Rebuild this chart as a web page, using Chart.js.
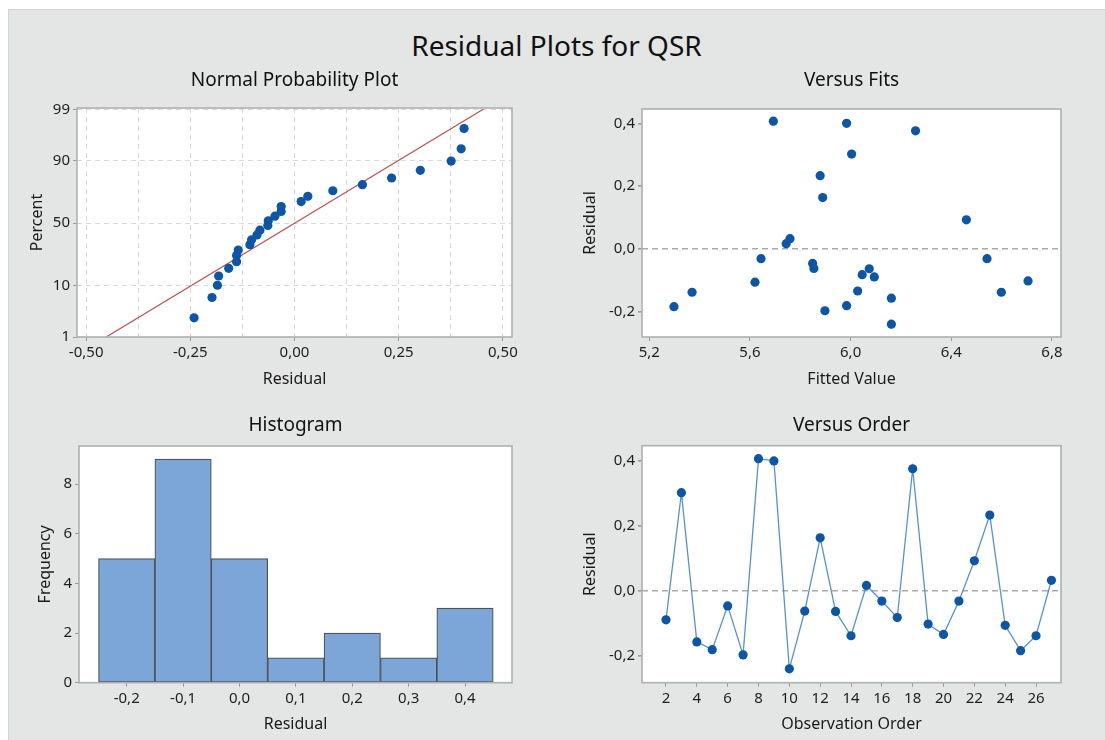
<!DOCTYPE html>
<html>
<head>
<meta charset="utf-8">
<title>Residual Plots for QSR</title>
<script src="https://cdn.jsdelivr.net/npm/chart.js@4.4.1/dist/chart.umd.min.js"></script>
<style>
  html, body { margin: 0; padding: 0; background: #fff; width: 1105px; height: 740px; overflow: hidden; }
  #fundo { position: absolute; left: 8px; top: 9px; width: 1097px; height: 731px; background: #e4e5e5;
           border-top: 1px solid #d3d4d4; border-left: 1px solid #d3d4d4; }
  #titulo { position: absolute; left: 8px; top: 26px; width: 1097px; text-align: center;
            font: 28px/38px "Noto Sans", sans-serif; color: #111; }
  canvas { position: absolute; }
</style>
</head>
<body>
<div id="fundo"></div>
<div id="titulo">Residual Plots for QSR</div>
<canvas id="normal" width="540" height="340" style="left:0;top:60px"></canvas>
<canvas id="ajuste" width="545" height="340" style="left:560px;top:60px"></canvas>
<canvas id="histograma" width="540" height="340" style="left:0;top:400px"></canvas>
<canvas id="ordem" width="545" height="340" style="left:560px;top:400px"></canvas>
<script>
const ordens = [2, 3, 4, 5, 6, 7, 8, 9, 10, 11, 12, 13, 14, 15, 16, 17, 18, 19, 20, 21, 22, 23, 24, 25, 26, 27];
const residuos = [-0.090, 0.302, -0.158, -0.182, -0.047, -0.198, 0.407, 0.400, -0.241, -0.063, 0.163, -0.064, -0.139,
                  0.016, -0.032, -0.083, 0.376, -0.103, -0.135, -0.032, 0.092, 0.233, -0.107, -0.185, -0.139, 0.032];
// Valores ajustados correspondentes (gráfico "Versus Fits").
const ajustados = [6.094, 6.004, 6.162, 5.984, 5.849, 5.898, 5.693, 5.984, 6.162, 5.854, 5.889, 6.074, 5.370,
                   5.744, 5.644, 6.046, 6.258, 6.705, 6.028, 6.542, 6.460, 5.879, 5.620, 5.298, 6.599, 5.759];
// Percentagens da probabilidade normal (resíduos ordenados).
const percentagens = [2.65, 6.44, 10.23, 14.02, 17.80, 21.59, 25.38, 29.17, 32.95, 36.74, 40.53, 44.32, 48.11,
                      51.89, 55.68, 59.47, 63.26, 67.05, 70.83, 74.62, 78.41, 82.20, 85.98, 89.77, 93.56, 97.35];
// Reta de referência da normal.
const retaX = [-0.452, 0.453];
const retaPct = [1, 99];
// Histograma.
const classes = [-0.2, -0.1, 0.0, 0.1, 0.2, 0.3, 0.4];
const frequencias = [5, 9, 5, 1, 2, 1, 3];
// Marcas dos eixos.
const ticksPct = [1, 10, 50, 90, 99];
const grelhaResiduoX = [-0.5, -0.375, -0.25, -0.125, 0, 0.125, 0.25, 0.375, 0.5];
const ticksAjuste = [5.2, 5.6, 6.0, 6.4, 6.8];
const ticksResiduoY = [-0.2, 0.0, 0.2, 0.4];
const ticksFreq = [0, 2, 4, 6, 8];
const ticksOrdem = [2, 4, 6, 8, 10, 12, 14, 16, 18, 20, 22, 24, 26];

const AZUL = '#0d56a5';
Chart.defaults.font.family = "'Noto Sans', sans-serif";
Chart.defaults.color = '#1e1e1e';
Chart.defaults.animation = false;

// Inversa da normal padrão (Acklam), usada para a escala de probabilidade.
function probit(p) {
  const a = [-3.969683028665376e+01, 2.209460984245205e+02, -2.759285104469687e+02, 1.383577518672690e+02, -3.066479806614716e+01, 2.506628277459239e+00];
  const b = [-5.447609879822406e+01, 1.615858368580409e+02, -1.556989798598866e+02, 6.680131188771972e+01, -1.328068155288572e+01];
  const c = [-7.784894002430293e-03, -3.223964580411365e-01, -2.400758277161838e+00, -2.549732539343734e+00, 4.374664141464968e+00, 2.938163982698783e+00];
  const d = [7.784695709041462e-03, 3.224671290700398e-01, 2.445134137142996e+00, 3.754408661907416e+00];
  const pl = 0.02425;
  let q, r;
  if (p < pl) {
    q = Math.sqrt(-2 * Math.log(p));
    return (((((c[0] * q + c[1]) * q + c[2]) * q + c[3]) * q + c[4]) * q + c[5]) / ((((d[0] * q + d[1]) * q + d[2]) * q + d[3]) * q + 1);
  }
  if (p > 1 - pl) {
    q = Math.sqrt(-2 * Math.log(1 - p));
    return -(((((c[0] * q + c[1]) * q + c[2]) * q + c[3]) * q + c[4]) * q + c[5]) / ((((d[0] * q + d[1]) * q + d[2]) * q + d[3]) * q + 1);
  }
  q = p - 0.5;
  r = q * q;
  return (((((a[0] * r + a[1]) * r + a[2]) * r + a[3]) * r + a[4]) * r + a[5]) * q / (((((b[0] * r + b[1]) * r + b[2]) * r + b[3]) * r + b[4]) * r + 1);
}

const virgula = (v, n) => v.toFixed(n).replace('.', ',');

// Fundo branco e moldura cinzenta da área de desenho.
const moldura = {
  id: 'moldura',
  beforeDraw(chart) {
    const { ctx, chartArea: a } = chart;
    ctx.save();
    ctx.fillStyle = '#fff';
    ctx.fillRect(a.left, a.top, a.width, a.height);
    ctx.restore();
  },
  afterDraw(chart) {
    const { ctx, chartArea: a } = chart;
    ctx.save();
    ctx.strokeStyle = '#b0b0b0';
    ctx.lineWidth = 1.6;
    ctx.strokeRect(a.left, a.top, a.width, a.height);
    ctx.restore();
  },
};

function eixo(c) {
  const horizontal = c.pos === 'bottom';
  return {
    type: 'linear',
    position: c.pos,
    min: c.min,
    max: c.max,
    offset: false,
    afterBuildTicks: (s) => { s.ticks = c.valores.map((v) => ({ value: v })); },
    afterFit: (s) => { if (horizontal) s.height = c.tamanho; else s.width = c.tamanho; },
    ticks: { autoSkip: false, maxRotation: 0, padding: 3, font: { size: 15 }, color: '#1e1e1e', callback: c.rotulo },
    grid: {
      offset: false,
      color: c.corGrelha || 'transparent',
      lineWidth: c.larguraGrelha || 1,
      tickLength: 4,
      tickColor: c.corTick || '#9a9a9a',
      tickBorderDash: [],
    },
    border: { display: false, dash: c.tracejado || [5, 4] },
    title: {
      display: true,
      text: c.titulo,
      font: { size: 16 },
      color: '#1a1a1a',
      padding: horizontal ? { top: 0, bottom: c.padTitulo } : { top: c.padTitulo, bottom: 0 },
    },
  };
}

function titulo(texto, cima, baixo) {
  return {
    display: true, text: texto, fullSize: false, color: '#111',
    font: { size: 19, weight: 'normal' }, padding: { top: cima, bottom: baixo },
  };
}

const semExtras = { legend: { display: false }, tooltip: { enabled: false } };
const linhaZero = (ctx) => (ctx.tick && Math.abs(ctx.tick.value) < 1e-9 ? '#a9a9a9' : 'transparent');
const PONTO = { pointRadius: 4.6, pointBackgroundColor: AZUL, pointBorderWidth: 0 };

// Normal Probability Plot
const ordenados = [...residuos].sort((x, y) => x - y);
new Chart(document.getElementById('normal'), {
  type: 'scatter',
  data: {
    datasets: [
      {
        data: ordenados.map((r, i) => ({ x: r, y: probit(percentagens[i] / 100) })),
        ...PONTO,
      },
      {
        data: retaX.map((x, i) => ({ x, y: probit(retaPct[i] / 100) })),
        showLine: true, borderColor: '#b9504f', borderWidth: 1.2, pointRadius: 0,
      },
    ],
  },
  options: {
    responsive: false,
    layout: { padding: { right: 28 } },
    plugins: { ...semExtras, title: titulo('Normal Probability Plot', 9.6, 15.6) },
    scales: {
      x: eixo({
        pos: 'bottom', min: -0.522, max: 0.522, valores: grelhaResiduoX, tamanho: 63, padTitulo: 11,
        titulo: 'Residual', corGrelha: '#dadada',
        rotulo: (v) => (Math.abs(v * 4 - Math.round(v * 4)) < 1e-9 ? virgula(v, 2) : ''),
        corTick: (ctx) => (ctx.tick && Math.abs(ctx.tick.value * 4 - Math.round(ctx.tick.value * 4)) < 1e-9 ? '#9a9a9a' : 'transparent'),
      }),
      y: eixo({
        pos: 'left', min: probit(0.01), max: probit(0.99) + 0.027,
        valores: ticksPct.map((p) => probit(p / 100)), tamanho: 77, padTitulo: 28,
        titulo: 'Percent', corGrelha: '#dadada',
        rotulo: (v, i) => String(ticksPct[i]),
      }),
    },
  },
  plugins: [moldura],
});

// Versus Fits
new Chart(document.getElementById('ajuste'), {
  type: 'scatter',
  data: {
    datasets: [{ data: ajustados.map((x, i) => ({ x, y: residuos[i] })), ...PONTO }],
  },
  options: {
    responsive: false,
    layout: { padding: { right: 44 } },
    plugins: { ...semExtras, title: titulo('Versus Fits', 9.6, 16.6) },
    scales: {
      x: eixo({
        pos: 'bottom', min: 5.171, max: 6.836, valores: ticksAjuste, tamanho: 63, padTitulo: 11,
        titulo: 'Fitted Value', rotulo: (v) => virgula(v, 1),
      }),
      y: eixo({
        pos: 'left', min: -0.2818, max: 0.4457, valores: ticksResiduoY, tamanho: 82, padTitulo: 21,
        titulo: 'Residual', corGrelha: linhaZero, larguraGrelha: 1.6, tracejado: [6, 4],
        rotulo: (v) => virgula(v, 1),
      }),
    },
  },
  plugins: [moldura],
});

// Histogram
new Chart(document.getElementById('histograma'), {
  type: 'bar',
  data: {
    datasets: [{
      data: classes.map((x, i) => ({ x, y: frequencias[i] })),
      backgroundColor: '#7ca6d8', borderColor: '#4e5359', borderWidth: 1.2, borderSkipped: false,
      barPercentage: 1, categoryPercentage: 1,
    }],
  },
  options: {
    responsive: false,
    layout: { padding: { right: 28 } },
    plugins: { ...semExtras, title: titulo('Histogram', 14.6, 8.6) },
    scales: {
      x: eixo({
        pos: 'bottom', min: -0.2846, max: 0.4833, valores: classes, tamanho: 57.3, padTitulo: 6,
        titulo: 'Residual', rotulo: (v) => virgula(v, 1),
      }),
      y: eixo({
        pos: 'left', min: 0, max: 9.53, valores: ticksFreq, tamanho: 79, padTitulo: 36,
        titulo: 'Frequency', rotulo: (v) => String(v),
      }),
    },
  },
  plugins: [moldura],
});

// Versus Order
new Chart(document.getElementById('ordem'), {
  type: 'scatter',
  data: {
    datasets: [{
      data: ordens.map((x, i) => ({ x, y: residuos[i] })),
      showLine: true, borderColor: '#5393d3', borderWidth: 1.3,
      ...PONTO,
    }],
  },
  options: {
    responsive: false,
    layout: { padding: { right: 44 } },
    plugins: { ...semExtras, title: titulo('Versus Order', 14.6, 8.3) },
    scales: {
      x: eixo({
        pos: 'bottom', min: 0.444, max: 27.62, valores: ticksOrdem, tamanho: 57.3, padTitulo: 6,
        titulo: 'Observation Order', rotulo: (v) => String(v),
      }),
      y: eixo({
        pos: 'left', min: -0.2838, max: 0.447, valores: ticksResiduoY, tamanho: 82, padTitulo: 21,
        titulo: 'Residual', corGrelha: linhaZero, larguraGrelha: 1.6, tracejado: [6, 4],
        rotulo: (v) => virgula(v, 1),
      }),
    },
  },
  plugins: [moldura],
});
</script>
</body>
</html>
